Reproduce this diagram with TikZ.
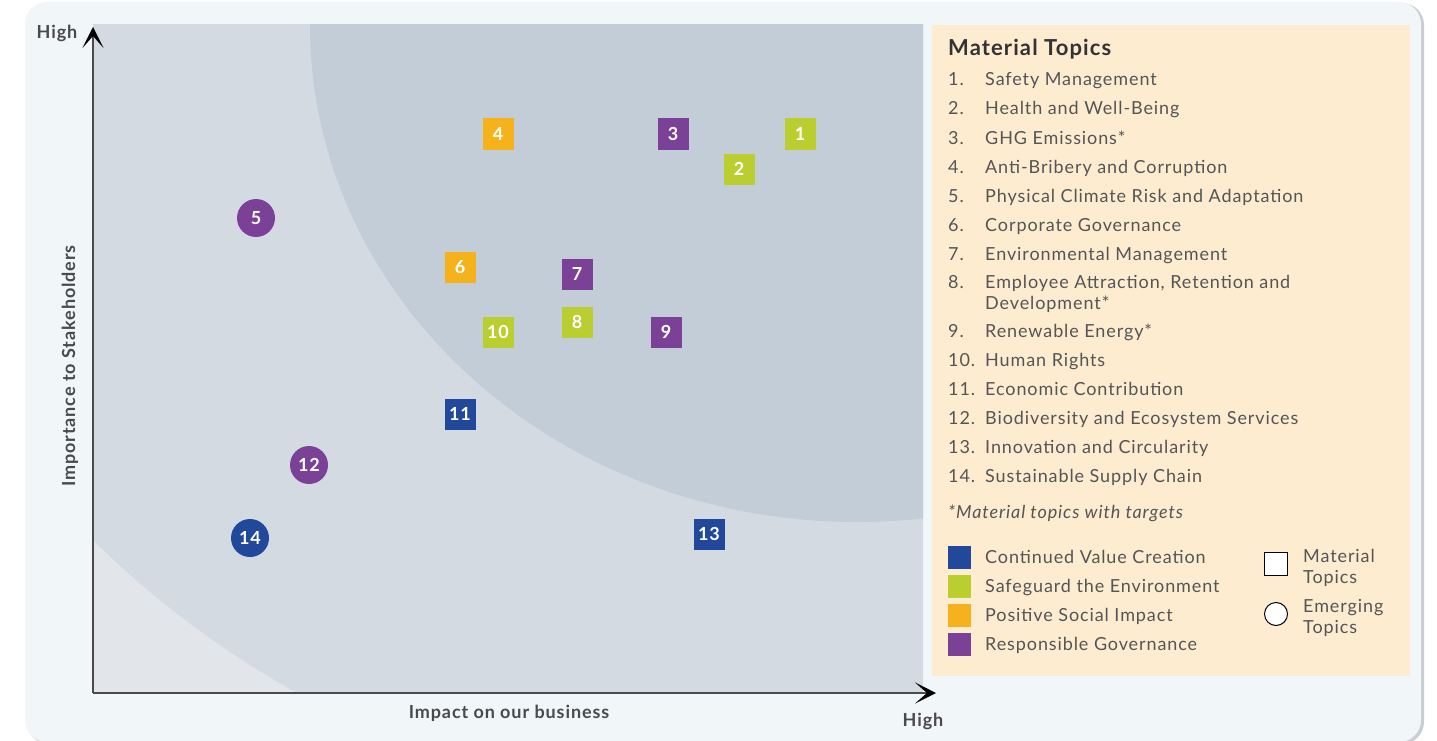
\documentclass[tikz,border=0pt]{standalone}
\usepackage{fontspec}
\setmainfont{Lato}[LetterSpace=5]
\usetikzlibrary{positioning, arrows.meta}

\definecolor{panelbg}{HTML}{F1F6F9}
\definecolor{panelshadow}{HTML}{C9CED3}
\definecolor{zonelow}{HTML}{E2E6EB}
\definecolor{zonemid}{HTML}{D3DAE2}
\definecolor{zonehigh}{HTML}{C3CDD8}
\definecolor{legendbg}{HTML}{FEECD0}
\definecolor{valueblue}{HTML}{21489A}
\definecolor{envgreen}{HTML}{BACF2F}
\definecolor{socialorange}{HTML}{F5B21B}
\definecolor{govpurple}{HTML}{7A4196}
\definecolor{axisgray}{HTML}{4A4A4A}
\definecolor{listgray}{HTML}{555555}

\begin{document}
\begin{tikzpicture}[
        x=1pt, y=-1pt,
        node distance=15pt,
        topicsq/.style={
            rectangle,
            fill=#1,
            minimum size=31pt,
            inner sep=0pt,
            text=white,
            font=\fontsize{18}{18}\selectfont\bfseries
        },
        topiccirc/.style={topicsq=#1, circle, minimum size=38pt},
        axislabel/.style={text=axisgray, font=\fontsize{18}{20}\selectfont\bfseries},
        axisline/.style={draw=axisgray, line width=1.3pt,
            -{Stealth[length=21pt, width=21pt, inset=12pt, color=black]}},
        listtext/.style={anchor=base west, inner sep=0pt, text=listgray,
            font=\fontsize{18}{21}\selectfont},
        keybox/.style={rectangle, fill=#1, minimum size=23pt, inner sep=0pt},
        shapekey/.style={draw=black, fill=white, line width=1pt, inner sep=0pt}
    ]

    \useasboundingbox (0,0) rectangle (1437,741);

    % --- Background panel ---
    \fill[panelshadow, rounded corners=22pt] (27,3) rectangle (1424,744);
    \fill[panelbg, rounded corners=22pt] (25,2) rectangle (1421,742);

    % --- Zones of the matrix ---
    \begin{scope}
        \clip (93,25) rectangle (923,693);
        \fill[zonelow] (93,25) rectangle (923,693);
        \fill[zonemid] (857,25) ellipse [x radius=990, y radius=810];
        \fill[zonehigh] (857,25) ellipse [x radius=547, y radius=497];
    \end{scope}

    % --- Axes ---
    \coordinate (origin) at (93,693);
    \coordinate (ytop) at (93,27);
    \coordinate (xend) at (936,693);
    \draw[axisline] (origin) -- (ytop);
    \draw[axisline] (origin) -- (xend);

    \node[axislabel] (yhigh) at (57,33) {High};
    \node[axislabel] (xhigh) at (923,721) {High};
    \node[axislabel] (xlabel) at (509,713) {Impact on our business};
    \node[axislabel, rotate=90] (ylabel) at (70,366) {Importance to Stakeholders};

    % --- Topics ---
    \node[topicsq=envgreen] (t1) at (800,134) {1};
    \node[topicsq=envgreen] (t2) at (739,169) {2};
    \node[topicsq=govpurple] (t3) at (673,134) {3};
    \node[topicsq=socialorange] (t4) at (498,134) {4};
    \node[topiccirc=govpurple] (t5) at (256,218) {5};
    \node[topicsq=socialorange] (t6) at (460,267) {6};
    \node[topicsq=govpurple] (t7) at (577,274) {7};
    \node[topicsq=envgreen] (t8) at (577,322) {8};
    \node[topicsq=govpurple] (t9) at (666,332) {9};
    \node[topicsq=envgreen] (t10) at (498,332) {10};
    \node[topicsq=valueblue] (t11) at (460,414) {11};
    \node[topiccirc=govpurple] (t12) at (309,465) {12};
    \node[topicsq=valueblue] (t13) at (709,534) {13};
    \node[topiccirc=valueblue] (t14) at (250,538) {14};

    % --- Legend ---
    \fill[legendbg] (932,25) rectangle (1410,676);
    \node[anchor=base west, inner sep=0pt, text=black!80,
        font=\fontsize{22}{24}\selectfont\bfseries] (title) at (948,56) {Material Topics};

    \foreach \n/\y/\txt in {
        1/86/Safety Management,
        2/115/Health and Well-Being,
        3/144/GHG Emissions*,
        4/173/Anti-Bribery and Corruption,
        5/202/Physical Climate Risk and Adaptation,
        6/231/Corporate Governance,
        7/260/Environmental Management,
        8/288/{Employee Attraction, Retention and},
        9/337/Renewable Energy*,
        10/366/Human Rights,
        11/395/Economic Contribution,
        12/424/Biodiversity and Ecosystem Services,
        13/453/Innovation and Circularity,
        14/482/Sustainable Supply Chain} {
        \node[listtext] (num\n) at (948,\y) {\n.};
        \node[listtext] (item\n) at (985,\y) {\txt};
    }
    \node[listtext] (item8b) at (985,309) {Development*};

    \node[listtext, font=\fontsize{18}{21}\selectfont\itshape] (note) at (948,518)
        {*Material topics with targets};

    \foreach \c/\y/\txt in {
        valueblue/557/Continued Value Creation,
        envgreen/586/Safeguard the Environment,
        socialorange/615/Positive Social Impact,
        govpurple/644/Responsible Governance} {
        \node[keybox=\c] (key\c) at (959,\y) {};
        \node[listtext] (keytext\c) at (985,\y+6) {\txt};
    }

    \node[shapekey, rectangle, minimum size=23pt] (sqkey) at (1276,564) {};
    \node[listtext] (sqtext) at (1303,562) {Material};
    \node[listtext] (sqtextb) at (1303,583) {Topics};
    \node[shapekey, circle, minimum size=23pt] (circkey) at (1276,614) {};
    \node[listtext] (circtext) at (1303,612) {Emerging};
    \node[listtext] (circtextb) at (1303,633) {Topics};

\end{tikzpicture}
\end{document}
